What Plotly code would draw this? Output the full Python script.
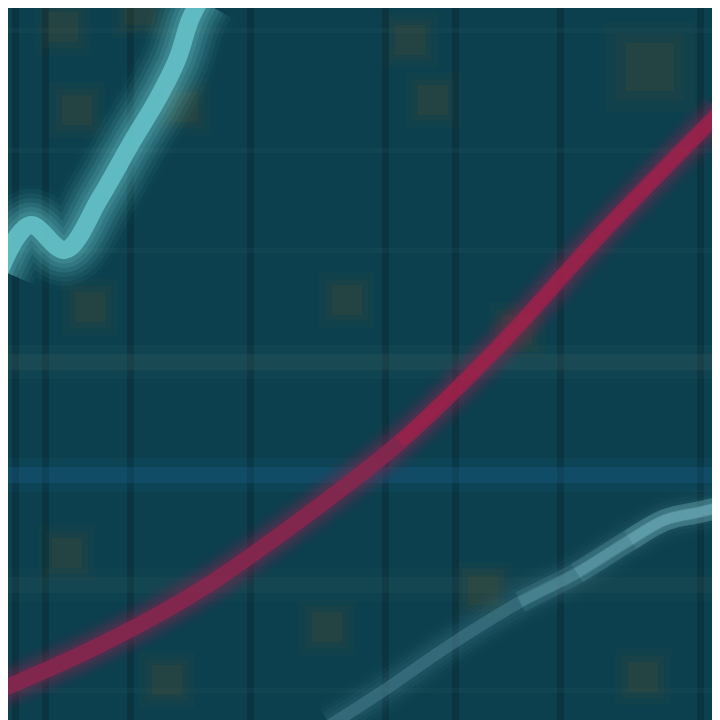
import plotly.graph_objects as go

# --- data (coordinate space matches window pixels, y measured from top) ---
cyan_x = [0, 30, 65, 100, 133, 157, 177, 190, 200]
cyan_y = [270, 225, 250, 198, 140, 100, 60, 20, 0]

red_x = [0, 100, 200, 300, 400, 500, 600, 720]
red_y = [690, 645, 590, 520, 442, 345, 235, 112]

pale_x = [330, 380, 450, 520, 577, 630, 665, 700, 730]
pale_y = [725, 693, 645, 602, 573, 540, 520, 512, 505]
pale_boost_from = [3, 4, 5]  # index into pale_x where extra brightness layers begin

sq_x = [63, 140, 77, 183, 90, 347, 410, 433, 650, 517, 67, 327, 167, 483, 643]
sq_y = [27, 10, 110, 107, 307, 300, 40, 100, 67, 330, 553, 627, 680, 590, 677]
sq_h = [1, 1, 1, 1, 1, 1, 1, 1, 1.6, 1, 1, 1, 1, 1, 1]

band_rows = [362, 475, 585]
band_rgb = ["60,100,100", "25,100,145", "55,95,95"]
band_alpha = [0.35, 0.45, 0.25]

vgrid = [15, 45, 130, 250, 385, 455, 560, 700]
hgrid = [30, 150, 250, 690]

fig = go.Figure()


def glow(x, y, rgb, core, alpha_core, layers=6, spread=10, shape="spline"):
    for i in range(layers, 0, -1):
        w = core + spread * i
        a = alpha_core * 0.22 * (1 - (i - 1) / layers)
        fig.add_trace(go.Scatter(x=x, y=y, mode="lines", line_shape=shape,
                                 line=dict(color=f"rgba({rgb},{a:.3f})", width=w),
                                 hoverinfo="skip"))
    fig.add_trace(go.Scatter(x=x, y=y, mode="lines", line_shape=shape,
                             line=dict(color=f"rgba({rgb},{alpha_core})", width=core),
                             hoverinfo="skip"))


# horizontal bands
for r, rgb, al in zip(band_rows, band_rgb, band_alpha):
    for w, f in [(34, 0.3), (16, 0.6)]:
        fig.add_trace(go.Scatter(x=[0, 730], y=[r, r], mode="lines",
                                 line=dict(color=f"rgba({rgb},{al * f:.3f})", width=w),
                                 hoverinfo="skip"))

# orange squares (soft)
for s, a in [(56, 0.07), (42, 0.11), (30, 0.17)]:
    fig.add_trace(go.Scatter(x=sq_x, y=sq_y, mode="markers",
                             marker=dict(symbol="square", size=[s * h for h in sq_h],
                                         color=f"rgba(120,85,30,{a})", line=dict(width=0)),
                             hoverinfo="skip"))

# pale line bottom right: dim base plus progressively brighter overlays toward the right
glow(pale_x, pale_y, "80,135,150", 12, 0.45, layers=5, spread=8)
for k in pale_boost_from:
    fig.add_trace(go.Scatter(x=pale_x[k:], y=pale_y[k:], mode="lines", line_shape="spline",
                             line=dict(color="rgba(130,195,205,0.12)", width=22), hoverinfo="skip"))
    fig.add_trace(go.Scatter(x=pale_x[k:], y=pale_y[k:], mode="lines", line_shape="spline",
                             line=dict(color="rgba(130,195,205,0.15)", width=10), hoverinfo="skip"))

# red curve
glow(red_x, red_y, "140,38,78", 16, 0.85, layers=5, spread=7)
fig.add_trace(go.Scatter(x=red_x[4:], y=red_y[4:], mode="lines", line_shape="spline",
                         line=dict(color="rgba(185,25,70,0.35)", width=12), hoverinfo="skip"))

# cyan line top left
glow(cyan_x, cyan_y, "105,200,205", 18, 0.8, layers=7, spread=9)

fig.update_layout(
    width=720, height=720,
    margin=dict(l=0, r=0, t=0, b=0),
    paper_bgcolor="#0c3d4b",
    plot_bgcolor="#0c404e",
    showlegend=False,
    xaxis=dict(range=[8, 728], tickvals=vgrid, showticklabels=False, zeroline=False,
               showgrid=True, gridcolor="rgba(5,35,45,0.4)", gridwidth=7, fixedrange=True),
    yaxis=dict(range=[728, 8], tickvals=hgrid, showticklabels=False, zeroline=False,
               showgrid=True, gridcolor="rgba(30,80,90,0.25)", gridwidth=5, fixedrange=True),
)

fig.write_html("out.html")
